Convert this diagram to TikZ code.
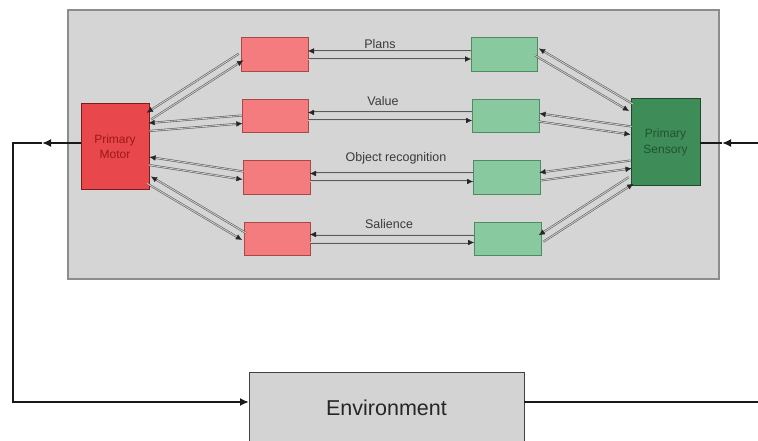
\documentclass[tikz,border=0pt]{standalone}
\usepackage{fontspec}
\setmainfont{Liberation Sans}
\usetikzlibrary{arrows.meta,calc}
\definecolor{panelfill}{HTML}{D5D5D5}
\definecolor{panelline}{HTML}{8C8C8C}
\definecolor{redlight}{HTML}{F47C7E}
\definecolor{redlightline}{HTML}{A84848}
\definecolor{motorfill}{HTML}{E8474C}
\definecolor{motorline}{HTML}{7E1C1C}
\definecolor{motortext}{HTML}{9E1818}
\definecolor{greenlight}{HTML}{88C9A0}
\definecolor{greenlightline}{HTML}{4F8B60}
\definecolor{sensfill}{HTML}{3E8C57}
\definecolor{sensline}{HTML}{1F4A2B}
\definecolor{senstext}{HTML}{1E5530}
\definecolor{envfill}{HTML}{D3D3D3}
\definecolor{labelcol}{HTML}{3A3A3A}
\newcommand{\biarrow}[2]{%
  \draw[pairline] ($(#1)!4pt!-90:(#2)$) -- ($(#2)!4pt!90:(#1)$);
  \draw[pairline] ($(#2)!4pt!-90:(#1)$) -- ($(#1)!4pt!90:(#2)$);
}
\begin{document}
\begin{tikzpicture}[x=1pt,y=-1pt,
  box/.style={draw, rectangle, inner sep=0pt, outer sep=0pt, line width=1pt},
  redbox/.style={box, fill=redlight, draw=redlightline},
  greenbox/.style={box, fill=greenlight, draw=greenlightline},
  rowlabel/.style={font=\fontsize{12.5}{14}\selectfont, text=labelcol, inner sep=0pt},
  pairline/.style={draw=black!65, line width=0.55pt, double=gray!40, double distance=0.9pt,
    -{Latex[length=6pt,width=5.5pt,color=black!85,fill=black!85,line width=0.3pt]}},
  fb/.style={draw=black!90, line width=1.8pt}
]
\useasboundingbox (0,0) rectangle (758,441);

% panel
\node[box, fill=panelfill, draw=panelline, line width=1.2pt, minimum width=651pt, minimum height=269pt] (panel) at (393.5,144.5) {};

% big boxes
\node[box, fill=motorfill, draw=motorline, minimum width=68pt, minimum height=86pt,
  align=center, text=motortext, font=\fontsize{12}{15}\selectfont] (motor) at (115,147) {Primary\\Motor};
\node[box, fill=sensfill, draw=sensline, minimum width=69pt, minimum height=87pt,
  align=center, text=senstext, font=\fontsize{12}{16}\selectfont] (sens) at (665.5,142.5) {Primary\\Sensory};

% red boxes
\node[redbox, minimum width=67pt, minimum height=34pt] (r1) at (274.5,55) {};
\node[redbox, minimum width=66pt, minimum height=33pt] (r2) at (275,116.5) {};
\node[redbox, minimum width=67pt, minimum height=33pt] (r3) at (276.5,177.5) {};
\node[redbox, minimum width=66pt, minimum height=33pt] (r4) at (277,238.5) {};
% green boxes
\node[greenbox, minimum width=66pt, minimum height=34pt] (g1) at (504,55) {};
\node[greenbox, minimum width=67pt, minimum height=33pt] (g2) at (505.5,116.5) {};
\node[greenbox, minimum width=67pt, minimum height=33pt] (g3) at (506.5,177.5) {};
\node[greenbox, minimum width=67pt, minimum height=33pt] (g4) at (507.5,238.5) {};

% environment
\node[box, fill=envfill, draw=black!75, minimum width=275pt, minimum height=72pt,
  font=\fontsize{21.5}{24}\selectfont, text=black!85] (env) at (386.5,408) {Environment};

% row labels
\node[rowlabel] (lplans) at (380,44) {Plans};
\node[rowlabel] (lvalue) at (383,101) {Value};
\node[rowlabel] (lobj) at (396,158) {Object recognition};
\node[rowlabel] (lsal) at (389,224) {Salience};

% horizontal pairs
\biarrow{r1.east}{g1.west}
\biarrow{r2.east}{g2.west}
\biarrow{r3.east}{g3.west}
\biarrow{r4.east}{g4.west}

% motor side pairs
\coordinate (m1) at ($(motor.east)+(0,-31)$);
\coordinate (m2) at ($(motor.east)+(0,-20)$);
\coordinate (m3) at ($(motor.east)+(0,14)$);
\coordinate (m4) at ($(motor.east)+(0,33)$);
\coordinate (rw1) at ($(r1.west)+(0,2)$);
\coordinate (rw2) at ($(r2.west)+(0,3)$);
\coordinate (rw3) at ($(r3.west)+(0,-2)$);
\coordinate (rw4) at ($(r4.west)+(0,-2)$);
\biarrow{m1}{rw1}
\biarrow{m2}{rw2}
\biarrow{m3}{rw3}
\biarrow{m4}{rw4}

% sensory side pairs
\coordinate (s1) at ($(sens.west)+(0,-35)$);
\coordinate (s2) at ($(sens.west)+(0,-12)$);
\coordinate (s3) at ($(sens.west)+(0,22)$);
\coordinate (s4) at ($(sens.west)+(0,38)$);
\coordinate (ge1) at ($(g1.east)+(0,-3)$);
\coordinate (ge2) at ($(g2.east)+(0,1)$);
\coordinate (ge3) at ($(g3.east)+(0,-1)$);
\coordinate (ge4) at ($(g4.east)+(0,0)$);
\biarrow{ge1}{s1}
\biarrow{ge2}{s2}
\biarrow{ge3}{s3}
\biarrow{ge4}{s4}

% feedback loop
\coordinate (mout) at ($(motor.west)+(0,-4)$);
\coordinate (marr) at ($(mout)+(-39,0)$);
\coordinate (lc) at ($(mout)+(-68,0)$);
\coordinate (envin) at ($(env.west)+(0,-6)$);
\coordinate (envout) at ($(env.east)+(0,-6)$);
\coordinate (rc2) at ($(envout)+(237,0)$);
\coordinate (sin) at ($(sens.east)+(0,0.5)$);
\coordinate (rc1) at ($(sin)+(61,0)$);
\coordinate (sarr) at ($(sin)+(22,0)$);

\draw[fb, -{Latex[length=9pt,width=8pt]}] (mout) -- (marr);
\draw[fb, -{Latex[length=9pt,width=8pt]}] (marr) -- (lc) |- (envin);
\draw[fb, -{Latex[length=9pt,width=8pt]}] (envout) -- (rc2) -- (rc1) -- (sarr);
\draw[fb] (sarr) -- (sin);
\end{tikzpicture}
\end{document}
